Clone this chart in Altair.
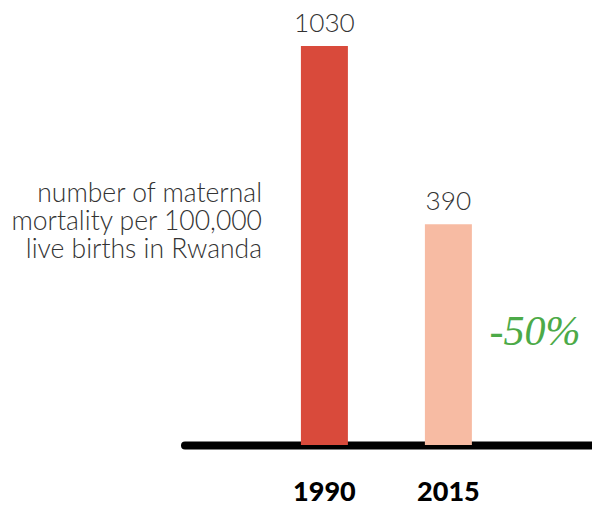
import altair as alt
import pandas as pd

years = ["1990", "2015"]
values = [1030, 390]
bar_colors = ["#d94a3b", "#f7bba3"]
note_lines = ["number of maternal", "mortality per 100,000", "live births in Rwanda"]
change_label = ["-50%"]

df = pd.DataFrame({"year": years, "value": values, "color": bar_colors})

x_scale = alt.Scale(domain=years, range=[176.5, 587.5], paddingInner=0.621,
                    paddingOuter=0.968, align=0.485)
y_scale = alt.Scale(type="pow", exponent=0.61, domain=[0, 1030], range=[437, 38])

x_enc = alt.X("year:N", scale=x_scale,
              axis=alt.Axis(title=None, ticks=False, domainColor="#000000",
                            domainWidth=8, domainCap="round", labelFont="Lato",
                            labelFontSize=27, labelFontWeight=900, labelColor="#000000",
                            labelAngle=0, labelBaseline="middle", labelPadding=47))

bars = alt.Chart(df).mark_bar().encode(
    x=x_enc,
    y=alt.Y("value:Q", scale=y_scale, axis=None),
    color=alt.Color("color:N", scale=None),
)

labels = alt.Chart(df).mark_text(font="Lato", fontWeight=300, fontSize=26.2,
                                 color="#333333", baseline="alphabetic", dy=-14).encode(
    x=alt.X("year:N", scale=x_scale),
    y=alt.Y("value:Q", scale=y_scale),
    text="value:Q",
)

note = alt.Chart(pd.DataFrame({"t": [note_lines]})).mark_text(
    font="Lato", fontWeight=300, fontSize=26.5, color="#333333", align="right",
    baseline="alphabetic", lineHeight=28,
).encode(x=alt.value(254), y=alt.value(194), text="t")

change = alt.Chart(pd.DataFrame({"t": change_label})).mark_text(
    font="Liberation Serif", fontStyle="italic", fontSize=42, color="#4caa48",
    align="center", baseline="middle",
).encode(x=alt.value(527), y=alt.value(324), text="t")

chart = alt.layer(bars, labels, note, change).properties(
    width=584, height=437,
    background="#ffffff",
    autosize=alt.AutoSizeParams(type="none"),
    padding={"left": 0, "top": 0, "right": 0, "bottom": 62},
).configure_view(stroke=None)

chart.save("out.html", embed_options={"renderer": "svg", "actions": False})
